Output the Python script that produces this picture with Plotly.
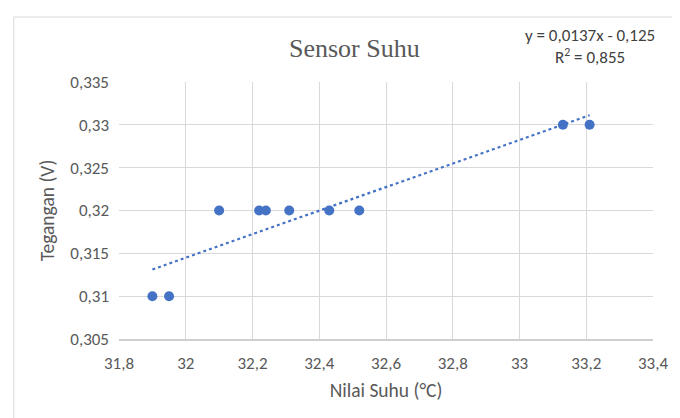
import numpy as np
import plotly.graph_objects as go

suhu = [31.90, 31.95, 32.10, 32.22, 32.24, 32.31, 32.43, 32.52, 33.13, 33.21]
tegangan = [0.31, 0.31, 0.32, 0.32, 0.32, 0.32, 0.32, 0.32, 0.33, 0.33]

x_ticks = [31.8, 32.0, 32.2, 32.4, 32.6, 32.8, 33.0, 33.2, 33.4]
x_labels = ["31,8", "32", "32,2", "32,4", "32,6", "32,8", "33", "33,2", "33,4"]
y_ticks = [0.305, 0.31, 0.315, 0.32, 0.325, 0.33, 0.335]
y_labels = ["0,305", "0,31", "0,315", "0,32", "0,325", "0,33", "0,335"]

title_text = "Sensor Suhu"
eq_text = "y = 0,0137x - 0,125<br>R<sup>2</sup> = 0,855"

slope, intercept = np.polyfit(suhu, tegangan, 1)
tx = [min(suhu), max(suhu)]
ty = [slope * v + intercept for v in tx]

FONT = "Carlito, Liberation Sans Narrow, Liberation Sans, sans-serif"
GRID = "#d9d9d9"
BLUE = "#4472C4"
TXT = "#595959"

fig = go.Figure()
fig.add_trace(go.Scatter(x=tx, y=ty, mode="lines",
                         line=dict(color=BLUE, width=2.2, dash="dot"),
                         hoverinfo="skip", showlegend=False))
fig.add_trace(go.Scatter(x=suhu, y=tegangan, mode="markers",
                         marker=dict(color=BLUE, size=10),
                         showlegend=False))

OFF = 8  # default page body margin
W, H = 680 - OFF, 418 - OFF
ml, mr, mt, mb = 111, 23, 74, 79
pw, ph = W - ml - mr, H - mt - mb

def px(xpix):
    return (xpix - OFF - ml) / pw

def py(ypix):
    return (H - mb - (ypix - OFF)) / ph

fig.update_layout(
    width=W, height=H,
    margin=dict(l=ml, r=mr, t=mt, b=mb),
    paper_bgcolor="white", plot_bgcolor="white",
    font=dict(family=FONT, size=17, color=TXT),
    xaxis=dict(range=[31.8, 33.4], tickvals=x_ticks, ticktext=x_labels,
               showgrid=True, gridcolor=GRID, gridwidth=1.3, zeroline=False,
               showline=True, linecolor="#cfcfcf", linewidth=1.5,
               ticks="", ticklabelstandoff=8,
               title=dict(text="Nilai Suhu (°C)", font=dict(size=19.5, color=TXT), standoff=10)),
    yaxis=dict(range=[0.305, 0.335], tickvals=y_ticks, ticktext=y_labels,
               showgrid=True, gridcolor=GRID, gridwidth=1.3, zeroline=False,
               showline=False, ticks="", ticklabelstandoff=9,
               title=dict(text="Tegangan (V)", font=dict(size=19.5, color=TXT), standoff=10)),
    shapes=[dict(type="rect", xref="paper", yref="paper",
                 x0=px(13), x1=px(720), y0=py(460), y1=py(17),
                 line=dict(color=GRID, width=1), fillcolor="rgba(0,0,0,0)", layer="below")],
    annotations=[
        dict(text=title_text, xref="paper", yref="paper", x=px(356), y=py(48),
             xanchor="center", yanchor="middle", showarrow=False,
             font=dict(family="Liberation Serif, Times New Roman, serif", size=26, color=TXT)),
        dict(text=eq_text, xref="paper", yref="paper", x=px(594), y=py(46),
             xanchor="center", yanchor="middle", showarrow=False, align="center",
             font=dict(size=17, color="#404040")),
    ],
)

fig.write_html("out.html")
